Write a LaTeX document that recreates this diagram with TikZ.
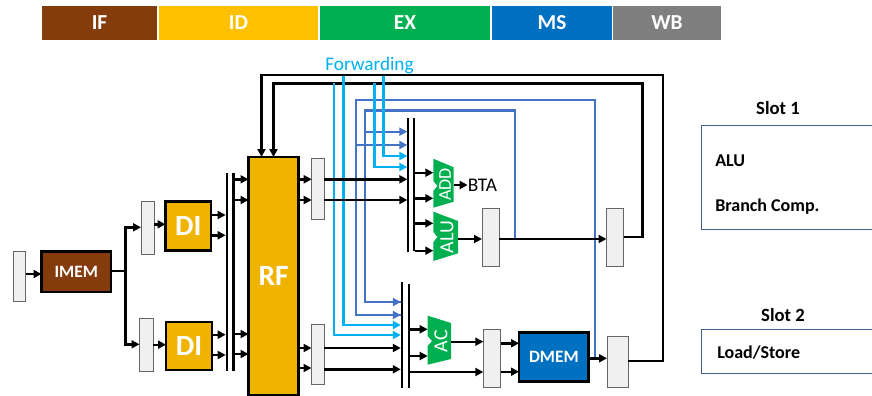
\documentclass[tikz,border=0pt]{standalone}
\usepackage{fontspec}
\setmainfont{Carlito}
\usetikzlibrary{arrows.meta,fit}

\definecolor{ifcol}{HTML}{843C0C}
\definecolor{idcol}{HTML}{FFC000}
\definecolor{excol}{HTML}{00B050}
\definecolor{mscol}{HTML}{0070C0}
\definecolor{wbcol}{HTML}{7F7F7F}
\definecolor{rfcol}{HTML}{F0B400}
\definecolor{fwdcol}{HTML}{00B0F0}
\definecolor{bypcol}{HTML}{4472C4}
\definecolor{slotcol}{HTML}{41608F}

\tikzset{
    box/.style={inner sep=0pt, outer sep=0pt},
    stage/.style={box},
    stagetext/.style={inner sep=0pt, text=white, font=\fontsize{16}{16}\selectfont\bfseries},
    latch/.style={box, draw=black!60, line width=0.7pt, fill=black!6},
    unit/.style={box, draw=black, line width=1.9pt},
    unittext/.style={inner sep=0pt, text=white, font=\fontsize{13}{13}\selectfont\bfseries},
    bigunit/.style={unit, fill=rfcol},
    bigtext/.style={inner sep=0pt, text=white, font=\fontsize{22}{22}\selectfont\bfseries},
    bar/.style={box, fill=black},
    wire/.style={draw=black, line width=1.8pt},
    arr/.style={wire, -{Triangle[length=6pt,width=6pt]}},
    fwd/.style={draw=fwdcol, line width=1.8pt, -{Triangle[length=6pt,width=6pt]}},
    byp/.style={draw=bypcol, line width=1.8pt, -{Triangle[length=6pt,width=6pt]}},
    bypline/.style={draw=bypcol, line width=1.8pt},
    alu/.style={fill=excol},
    alutext/.style={text=white, rotate=90, inner sep=0pt},
    slotline/.style={draw=slotcol, line width=0.7pt},
    slottext/.style={inner sep=0pt, font=\fontsize{13.5}{13.5}\selectfont\bfseries},
}

\begin{document}
\begin{tikzpicture}[x=0.75pt,y=-0.75pt]
    \useasboundingbox (0,0) rectangle (872,396);

    % stages
    \node[stage, fill=ifcol, fit={(42,6) (157,40)}] (if) {};
    \node[stage, fill=idcol, fit={(159,6) (318,40)}] (id) {};
    \node[stage, fill=excol, fit={(320,6) (490,40)}] (ex) {};
    \node[stage, fill=mscol, fit={(492,6) (612,40)}] (ms) {};
    \node[stage, fill=wbcol, fit={(613,6) (721,40)}] (wb) {};
    \node[stagetext] (iftext) at (if) {IF};
    \node[stagetext] (idtext) at (id) {ID};
    \node[stagetext] (extext) at (ex) {EX};
    \node[stagetext] (mstext) at (ms) {MS};
    \node[stagetext] (wbtext) at (wb) {WB};

    % feedback into the register file, under everything else
    \node[bigunit, fit={(248.5,157) (298.5,395)}] (rf) {};
    \node[bigtext] (rftext) at (rf) {RF};
    \node[latch, fit={(606.5,208) (623.5,266)}] (latA) {};
    \node[latch, fit={(607,336) (628,387)}] (latB) {};
    \draw[arr] (latB.east |- 0,361) -| (663,75) -| (rf.north -| 261.5,0);
    \draw[arr] (latA.east |- 0,237) -| (642.5,83.5) -| (rf.north -| 273.5,0);

    % muxes
    \node[bar, fit={(407.3,118) (409.3,252)}] (muxUa) {};
    \node[bar, fit={(412.8,118) (414.8,251)}] (muxUb) {};
    \node[bar, fit={(400.8,282) (402.8,388)}] (muxLa) {};
    \node[bar, fit={(408.3,284) (410.3,388)}] (muxLb) {};

    % bypass
    \draw[bypline] (muxLa.west |- 0,315) -- (356,315) -- (356,100) -- (595,100) -- (595,358);
    \draw[bypline] (muxLa.west |- 0,302) -- (365,302) -- (365,110.5) -- (515,110.5) -- (515,239);
    \draw[byp] (365,131.7) -- (muxUa.west |- 0,131.7);
    \draw[byp] (356,145) -- (muxUa.west |- 0,145);
    \draw[byp] (356,315) -- (muxLa.west |- 0,315);
    \draw[byp] (365,302) -- (muxLa.west |- 0,302);

    % forwarding
    \node[text=fwdcol, inner sep=0pt, font=\fontsize{14.4}{14.4}\selectfont] (fwdlab) at (369.5,65) {Forwarding};
    \draw[fwd] (334,83) |- (muxLa.west |- 0,335);
    \draw[fwd] (343.3,75.5) |- (muxLa.west |- 0,325);
    \draw[fwd] (374.3,83) |- (muxUa.west |- 0,167);
    \draw[fwd] (383.3,75.5) |- (muxUa.west |- 0,156);

    % fetch
    \node[latch, fit={(13.5,251.5) (25.5,301)}] (pc) {};
    \node[unit, fill=ifcol, fit={(41.5,251.5) (111,292)}] (imem) {};
    \node[unittext] (imemtext) at (imem) {IMEM};
    \node[latch, fit={(141,201) (154,254)}] (latC) {};
    \node[latch, fit={(139.5,318) (153,371)}] (latD) {};
    \node[bigunit, fit={(165.5,201.5) (211,250.5)}] (dia) {};
    \node[bigunit, fit={(166,322) (212,370)}] (dib) {};
    \node[bigtext] (diatext) at (dia) {DI};
    \node[bigtext] (dibtext) at (dib) {DI};
    \node[bar, fit={(225.7,173) (227.9,371)}] (barA) {};
    \node[bar, fit={(232.4,173) (234.6,371)}] (barB) {};
    \draw[arr] (pc.east |- 0,274) -- (imem.west |- 0,274);
    \draw[arr] (imem.east |- 0,271) -- (125.3,271) |- (latC.west |- 0,227.3);
    \draw[arr] (imem.east |- 0,271) -- (125.3,271) |- (latD.west |- 0,344.3);
    \draw[arr] (latC.east |- 0,224.3) -- (dia.west |- 0,224.3);
    \draw[arr] (latD.east |- 0,344.7) -- (dib.west |- 0,344.7);
    \draw[arr] (dia.east |- 0,215) -- (barA.west |- 0,215);
    \draw[arr] (dia.east |- 0,235.3) -- (barA.west |- 0,235.3);
    \draw[arr] (dib.east |- 0,334.7) -- (barA.west |- 0,334.7);
    \draw[arr] (dib.east |- 0,355) -- (barA.west |- 0,355);
    \draw[arr] (barB.east |- 0,179.3) -- (rf.west |- 0,179.3);
    \draw[arr] (barB.east |- 0,200) -- (rf.west |- 0,200);
    \draw[arr] (barB.east |- 0,334) -- (rf.west |- 0,334);
    \draw[arr] (barB.east |- 0,354) -- (rf.west |- 0,354);

    % after the register file
    \node[latch, fit={(311.7,158) (324.3,219.3)}] (latE) {};
    \node[latch, fit={(311.5,324.3) (324,384.3)}] (latF) {};
    \draw[arr] (rf.east |- 0,179.3) -- (latE.west |- 0,179.3);
    \draw[arr] (rf.east |- 0,200) -- (latE.west |- 0,200);
    \draw[arr] (rf.east |- 0,348) -- (latF.west |- 0,348);
    \draw[arr] (rf.east |- 0,368) -- (latF.west |- 0,368);
    \draw[arr] (latE.east |- 0,179.3) -- (muxUa.west |- 0,179.3);
    \draw[arr] (latE.east |- 0,200) -- (muxUa.west |- 0,200);
    \draw[arr] (latF.east |- 0,348) -- (muxLa.west |- 0,348);
    \draw[arr] (latF.east |- 0,369.3) -- (muxLa.west |- 0,369.3);

    % adder and alu
    \fill[alu] (433.3,158.7) -- (453.7,167.3) -- (453.7,201.7) -- (433.3,207.7) -- (433.3,191) -- (437.5,186) -- (433.3,181) -- cycle;
    \node[alutext, font=\fontsize{13.5}{13.5}\selectfont] (add) at (445,184.5) {ADD};
    \fill[alu] (433.3,211.7) -- (458,221) -- (458,253.3) -- (433.3,261) -- (433.3,242) -- (437.5,237) -- (433.3,232) -- cycle;
    \node[alutext, font=\fontsize{15}{15}\selectfont] (alu) at (447,237) {ALU};
    \fill[alu] (427.7,315.7) -- (451,323) -- (451,359) -- (427.7,364.7) -- (427.7,346) -- (432,341) -- (427.7,336) -- cycle;
    \node[alutext, font=\fontsize{15}{15}\selectfont] (ac) at (441,341) {AC};
    \node[inner sep=0pt, font=\fontsize{14.5}{14.5}\selectfont] (bta) at (482.5,185) {BTA};

    \draw[arr] (muxUb.east |- 0,172.7) -- (433.3,172.7);
    \draw[arr] (muxUb.east |- 0,198.3) -- (433.3,198.3);
    \draw[arr] (muxUb.east |- 0,223.3) -- (433.3,223.3);
    \draw[arr] (muxUb.east |- 0,250.7) -- (433.3,250.7);
    \draw[arr] (453.7,185) -- (bta.west);

    % memory stage
    \node[latch, fit={(482,208.3) (499.3,266)}] (latG) {};
    \node[latch, fit={(483.3,329.3) (500.7,387.3)}] (latH) {};
    \node[unit, fill=mscol, fit={(519,332.7) (588.7,381.7)}] (dmem) {};
    \node[unittext] (dmemtext) at (dmem) {DMEM};
    \draw[arr] (458,239) -- (latG.west |- 0,239);
    \draw[arr] (latG.east |- 0,239) -- (latA.west |- 0,239);
    \draw[arr] (muxLb.east |- 0,329.3) -- (427.7,329.3);
    \draw[arr] (muxLb.east |- 0,356) -- (427.7,356);
    \draw[arr] (muxLb.east |- 0,372) -- (latH.west |- 0,372);
    \draw[arr] (451,341.7) -- (latH.west |- 0,341.7);
    \draw[arr] (latH.east |- 0,343.3) -- (dmem.west |- 0,343.3);
    \draw[arr] (latH.east |- 0,371.7) -- (dmem.west |- 0,371.7);
    \draw[arr] (dmem.east |- 0,358.3) -- (latB.west |- 0,358.3);

    % slots
    \node[slottext] (slotA) at (778,108) {\fontsize{14}{14}\selectfont Slot 1};
    \draw[slotline] (872,125) -- (701,125) -- (701,229.3) -- (872,229.3);
    \node[slottext, anchor=west] (slotAa) at (715,161) {ALU};
    \node[slottext, anchor=west] (slotAb) at (715,207) {Branch Comp.};
    \node[slottext] (slotB) at (783,315) {\fontsize{14}{14}\selectfont Slot 2};
    \draw[slotline] (872,329.3) -- (701,329.3) -- (701,373) -- (872,373);
    \node[slottext, anchor=west] (slotBa) at (717,353) {Load/Store};
\end{tikzpicture}
\end{document}
